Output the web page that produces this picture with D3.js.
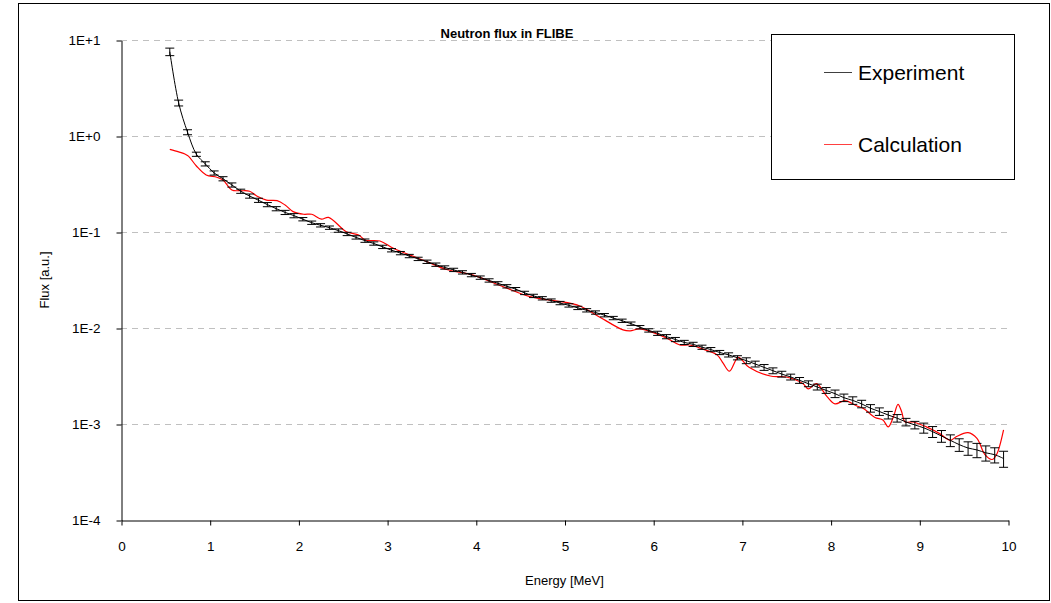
<!DOCTYPE html>
<html><head><meta charset="utf-8">
<script src="https://cdn.jsdelivr.net/npm/d3@7"></script>
<style>
body{margin:0;background:#fff;}
svg{display:block;font-family:"Liberation Sans",Arial,sans-serif;}
</style>
</head><body>
<svg id="chart" width="1051" height="603"></svg>
<script>
// ---------- data ----------
const expEnergy = [0.55,0.65,0.75,0.85,0.95,1.05,1.15,1.25,1.35,1.45,1.55,1.65,1.75,1.85,1.95,
  2.05,2.15,2.25,2.35,2.45,2.55,2.65,2.75,2.85,2.95,3.05,3.15,3.25,3.35,3.45,3.55,3.65,3.75,3.85,3.95,
  4.05,4.15,4.25,4.35,4.45,4.55,4.65,4.75,4.85,4.95,5.05,5.15,5.25,5.35,5.45,5.55,5.65,5.75,5.85,5.95,
  6.05,6.15,6.25,6.35,6.45,6.55,6.65,6.75,6.85,6.95,7.05,7.15,7.25,7.35,7.45,7.55,7.65,7.75,7.85,7.95,
  8.05,8.15,8.25,8.35,8.45,8.55,8.65,8.75,8.85,8.95,9.05,9.15,9.25,9.35,9.45,9.55,9.65,9.75,9.85,9.95];
const expFlux = [7.55,2.21,1.096,0.646,0.513,0.412,0.359,0.309,0.266,0.237,0.214,0.193,0.175,0.160,0.148,
  0.136,0.125,0.1175,0.111,0.1035,0.0955,0.0879,0.0813,0.0759,0.0700,0.0646,0.0603,0.0562,0.0525,0.0490,0.0457,0.0427,0.0403,0.0380,0.0356,
  0.0335,0.0313,0.0292,0.0272,0.0254,0.0232,0.0216,0.0204,0.0193,0.0182,0.0172,0.0162,0.0153,0.0145,0.0136,0.0127,0.0119,0.0111,0.0102,0.00944,
  0.00881,0.00813,0.00759,0.00708,0.00676,0.00631,0.00596,0.00556,0.00525,0.00490,0.00457,0.00422,0.00389,0.00359,0.00331,0.00309,0.00285,0.00263,0.00243,0.00224,
  0.00207,0.00188,0.00176,0.00162,0.00146,0.00135,0.00124,0.00115,0.00105,0.000977,0.000912,0.000832,0.000750,0.000676,0.000610,0.000562,0.000537,0.000501,0.000479,0.000437];
const expRelErr = [0.09,0.07,0.06,0.05,0.05,0.05,0.05,0.05,0.05,0.05,0.05,0.05,0.05,0.05,0.05,
  0.04,0.04,0.04,0.04,0.04,0.04,0.04,0.04,0.04,0.04,0.04,0.04,0.04,0.04,0.04,0.04,0.04,0.04,0.04,0.04,
  0.04,0.04,0.04,0.04,0.04,0.04,0.04,0.04,0.04,0.04,0.04,0.04,0.04,0.04,0.04,0.04,0.04,0.04,0.04,0.04,
  0.05,0.05,0.05,0.05,0.05,0.05,0.05,0.05,0.05,0.05,0.07,0.07,0.07,0.07,0.07,0.07,0.07,0.07,0.07,0.07,
  0.09,0.09,0.09,0.09,0.09,0.09,0.09,0.09,0.09,0.09,0.12,0.13,0.14,0.14,0.15,0.16,0.17,0.18,0.18,0.19];

const calcEnergy = [0.55,0.65,0.72,0.76,0.85,0.96,1.08,1.15,1.25,1.34,1.45,1.53,1.64,1.76,1.85,1.94,
  2.06,2.15,2.26,2.34,2.54,2.68,2.75,2.92,3.07,3.26,3.45,3.67,3.97,4.31,4.61,5.14,5.36,5.66,5.74,5.85,
  6.15,6.30,6.41,6.56,6.72,6.79,6.86,6.96,7.08,7.32,7.50,7.69,7.75,7.84,7.96,8.05,8.16,8.29,8.37,8.50,
  8.59,8.65,8.71,8.76,8.80,8.84,8.93,9.08,9.23,9.35,9.42,9.55,9.65,9.74,9.82,9.87,9.95];
const calcFlux = [0.726,0.684,0.649,0.617,0.487,0.393,0.372,0.348,0.274,0.269,0.266,0.237,0.215,0.212,0.191,0.163,
  0.153,0.153,0.136,0.142,0.1007,0.0931,0.0826,0.0805,0.0676,0.0575,0.0490,0.0407,0.0356,0.0269,0.0212,0.0174,0.0136,0.00955,0.00933,0.00977,
  0.00787,0.00665,0.00665,0.00603,0.00525,0.00427,0.00355,0.00495,0.00389,0.00316,0.00309,0.00263,0.00232,0.00263,0.00193,0.00162,0.00175,0.00155,0.00145,0.00117,
  0.00110,0.000933,0.00120,0.00160,0.00135,0.00105,0.00105,0.000933,0.000794,0.000676,0.000741,0.000813,0.000708,0.000479,0.000427,0.000479,0.000871];

const xTicks = [0,1,2,3,4,5,6,7,8,9,10];
const yTicks = [1e1,1e0,1e-1,1e-2,1e-3,1e-4];
const yTickLabels = ["1E+1","1E+0","1E-1","1E-2","1E-3","1E-4"];
const gridValues = [1e1,1e0,1e-1,1e-2,1e-3];
const seriesNames = ["Experiment","Calculation"];

// ---------- layout ----------
const svg = d3.select("#chart");
const plotL = 121, plotR = 1008, plotT = 40, plotB = 520;
const x = d3.scaleLinear().domain([0,10]).range([plotL,plotR]);
const y = d3.scaleLog().domain([1e-4,1e1]).range([plotB,plotT]);

// outer frame
svg.append("rect").attr("x",18.5).attr("y",3.5).attr("width",1031).attr("height",597)
  .attr("fill","#fff").attr("stroke","#000").attr("stroke-width",1);

// gridlines
svg.append("g").selectAll("line").data(gridValues).join("line")
  .attr("x1",plotL).attr("x2",plotR)
  .attr("y1",d=>Math.round(y(d))+0.5).attr("y2",d=>Math.round(y(d))+0.5)
  .attr("stroke","#c0c0c0").attr("stroke-width",1).attr("stroke-dasharray","6,5");

// axes
const yAxis = d3.axisLeft(y).tickValues(yTicks).tickFormat((d,i)=>yTickLabels[i])
  .tickSize(5).tickSizeOuter(0).tickPadding(16);
const gy = svg.append("g").attr("transform",`translate(${plotL+0.5},0.5)`).call(yAxis);
const xAxis = d3.axisBottom(x).tickValues(xTicks).tickFormat(d3.format("d"))
  .tickSize(5).tickSizeOuter(0).tickPadding(16);
const gx = svg.append("g").attr("transform",`translate(0.5,${plotB+0.5})`).call(xAxis);
[gx,gy].forEach(g=>{
  g.selectAll("text").attr("font-size",13.5).attr("fill","#000").attr("font-family","Liberation Sans, Arial, sans-serif");
  g.selectAll("path,line").attr("stroke","#000");
});

// axis titles
svg.append("text").attr("x",(plotL+plotR)/2).attr("y",585).attr("text-anchor","middle")
  .attr("font-size",13).text("Energy [MeV]");
svg.append("text").attr("transform","translate(49,280) rotate(-90)").attr("text-anchor","middle")
  .attr("font-size",13).text("Flux [a.u.]");

// chart title
svg.append("text").attr("x",507).attr("y",38).attr("text-anchor","middle")
  .attr("font-size",13).attr("font-weight","bold").text("Neutron flux in FLIBE");

// series
const expData = expEnergy.map((e,i)=>({e, v:expFlux[i], r:expRelErr[i]}));
const calcData = calcEnergy.map((e,i)=>({e, v:calcFlux[i]}));
const line = d3.line().x(d=>x(d.e)).y(d=>y(d.v)).curve(d3.curveCatmullRom.alpha(0.5));

svg.append("path").datum(calcData).attr("d",line)
  .attr("fill","none").attr("stroke","#ff0000").attr("stroke-width",1.2);

svg.append("path").datum(expData).attr("d",line)
  .attr("fill","none").attr("stroke","#000").attr("stroke-width",1);

// error bars
const eb = svg.append("g").attr("stroke","#000").attr("stroke-width",1);
const cap = 4.5;
eb.selectAll("line.v").data(expData).join("line").attr("class","v")
  .attr("x1",d=>x(d.e)).attr("x2",d=>x(d.e))
  .attr("y1",d=>y(d.v*(1+d.r))).attr("y2",d=>y(d.v*(1-d.r)));
eb.selectAll("line.t").data(expData).join("line").attr("class","t")
  .attr("x1",d=>x(d.e)-cap).attr("x2",d=>x(d.e)+cap)
  .attr("y1",d=>y(d.v*(1+d.r))).attr("y2",d=>y(d.v*(1+d.r)));
eb.selectAll("line.b").data(expData).join("line").attr("class","b")
  .attr("x1",d=>x(d.e)-cap).attr("x2",d=>x(d.e)+cap)
  .attr("y1",d=>y(d.v*(1-d.r))).attr("y2",d=>y(d.v*(1-d.r)));

// legend
const lg = svg.append("g");
lg.append("rect").attr("x",771.5).attr("y",34.5).attr("width",243).attr("height",145)
  .attr("fill","#fff").attr("stroke","#000").attr("stroke-width",1);
const legendColors = ["#000","#ff0000"];
const legendY = [72.5,144.5];
seriesNames.forEach((n,i)=>{
  lg.append("line").attr("x1",824).attr("x2",852).attr("y1",legendY[i]).attr("y2",legendY[i])
    .attr("stroke",legendColors[i]).attr("stroke-width",1).attr("stroke-opacity",0.75);
  lg.append("text").attr("x",858).attr("y",legendY[i]+7.5).attr("font-size",21).text(n);
});
</script>
</body></html>
